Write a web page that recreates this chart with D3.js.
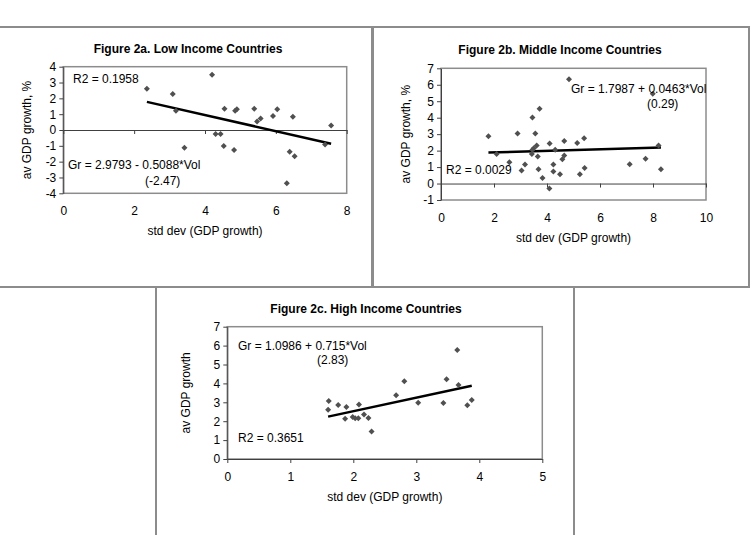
<!DOCTYPE html>
<html>
<head>
<meta charset="utf-8">
<script src="https://cdn.jsdelivr.net/npm/d3@7"></script>
<style>
    body { margin: 0; background: #fff; }
    svg { display: block; font-family: Arial, 'Liberation Sans', sans-serif; }
    .panel-box { fill: #fff; stroke: #8c8c8c; stroke-width: 2; }
    .plot-box { fill: none; stroke: #8c8c8c; stroke-width: 1.5; }
    .axis path, .axis line { stroke: #404040; }
    .title { font-size: 12px; font-weight: bold; }
    .axis-label { font-size: 12px; }
    .note { font-size: 12px; }
    .trend-line { stroke: #000; stroke-width: 2.5; fill: none; }
    .marker { fill: #505050; }
</style>
</head>
<body>
<div id="figure"></div>
<script>
// Figure 2a. Low income countries
const lowVol = [2.36, 3.09, 3.18, 3.42, 4.20, 4.30, 4.44, 4.55, 4.53, 4.82, 4.85, 4.90, 5.39, 5.47, 5.57, 5.92, 6.04, 6.31, 6.39, 6.48, 6.53, 7.39, 7.56];
const lowGr = [2.61, 2.27, 1.22, -1.12, 3.49, -0.25, -0.25, 1.35, -1.01, -1.26, 1.22, 1.31, 1.35, 0.53, 0.72, 0.88, 1.31, -3.37, -1.37, 0.84, -1.66, -0.91, 0.29];
const lowFit = { a: 2.9793, b: -0.5088 };

// Figure 2b. Middle income countries
const midVol = [1.79, 2.10, 2.58, 2.89, 3.04, 3.17, 3.43, 3.45, 3.50, 3.45, 3.72, 3.56, 3.61, 3.65, 3.68, 3.83, 4.09, 4.10, 4.24, 4.24, 4.31, 4.49, 4.58, 4.65, 4.65, 4.83, 5.14, 5.24, 5.40, 5.42, 7.12, 7.72, 7.99, 8.21, 8.30];
const midGr = [2.88, 1.80, 1.30, 3.04, 0.79, 1.15, 1.80, 2.05, 2.15, 4.01, 4.54, 3.04, 2.31, 1.64, 0.87, 0.34, -0.30, 2.43, 1.15, 0.73, 2.05, 0.57, 1.48, 1.70, 2.59, 6.34, 2.47, 0.57, 2.75, 0.95, 1.17, 1.50, 5.45, 2.31, 0.87];
const midFit = { a: 1.7987, b: 0.0463 };

// Figure 2c. High income countries
const highVol = [1.60, 1.61, 1.76, 1.87, 1.89, 1.99, 2.03, 2.08, 2.09, 2.17, 2.24, 2.29, 2.68, 2.81, 3.03, 3.43, 3.48, 3.65, 3.67, 3.81, 3.88];
const highGr = [2.61, 3.07, 2.86, 2.13, 2.75, 2.22, 2.15, 2.15, 2.89, 2.35, 2.17, 1.45, 3.37, 4.11, 2.98, 2.96, 4.22, 5.77, 3.92, 2.84, 3.12];
const highFit = { a: 1.0986, b: 0.715 };

// tick values
const lowXTicks = [0, 2, 4, 6, 8];
const lowYTicks = [-4, -3, -2, -1, 0, 1, 2, 3, 4];
const midXTicks = [0, 2, 4, 6, 8, 10];
const midYTicks = [-1, 0, 1, 2, 3, 4, 5, 6, 7];
const highXTicks = [0, 1, 2, 3, 4, 5];
const highYTicks = [0, 1, 2, 3, 4, 5, 6, 7];

// texts
const titles = ['Figure 2a. Low Income Countries', 'Figure 2b. Middle Income Countries', 'Figure 2c. High Income Countries'];
const xTitle = 'std dev (GDP growth)';
const yTitles = ['av GDP growth, %', 'av GDP growth, %', 'av GDP growth'];
const eqTexts = ['Gr = 2.9793 - 0.5088*Vol', 'Gr = 1.7987 + 0.0463*Vol', 'Gr = 1.0986 + 0.715*Vol'];
const tStats = ['(-2.47)', '(0.29)', '(2.83)'];
const r2Texts = ['R2 = 0.1958', 'R2 = 0.0029', 'R2 = 0.3651'];

const width = 756;
const height = 535;

const svg = d3.select('#figure')
    .append('svg')
    .attr('width', width)
    .attr('height', height);

function styleTicks(g) {
    g.attr('font-size', null).attr('font-family', null);
    g.selectAll('text')
        .style('font-size', '12px')
        .style('font-family', "Arial, 'Liberation Sans', sans-serif")
        .style('fill', '#000');
}

function drawPanel(p) {
    // outer frame
    svg.append('rect')
        .classed('panel-box', true)
        .attr('x', p.box[0])
        .attr('y', p.box[1])
        .attr('width', p.box[2])
        .attr('height', p.box[3]);

    const xScale = d3.scaleLinear().domain(p.xDomain).range([p.left, p.right]);
    const yScale = d3.scaleLinear().domain(p.yDomain).range([p.bottom, p.top]);

    svg.append('rect')
        .classed('plot-box', true)
        .attr('x', p.left)
        .attr('y', p.top)
        .attr('width', p.right - p.left)
        .attr('height', p.bottom - p.top);

    // y axis
    const yAxis = d3.axisLeft(yScale)
        .tickValues(p.yTicks)
        .tickSize(4)
        .tickSizeOuter(0)
        .tickPadding(3)
        .tickFormat(d => String(d));
    svg.append('g')
        .classed('axis', true)
        .attr('transform', 'translate(' + p.left + ',0)')
        .call(yAxis)
        .call(styleTicks);

    // x axis crosses at 0, labels sit under the plot
    const zeroY = yScale(0);
    const xAxis = d3.axisBottom(xScale)
        .tickValues(p.xTicks)
        .tickSize(4)
        .tickSizeOuter(0)
        .tickFormat(d => String(d));
    const xg = svg.append('g')
        .classed('axis', true)
        .attr('transform', 'translate(0,' + zeroY + ')')
        .call(xAxis)
        .call(styleTicks);
    xg.selectAll('text')
        .attr('dy', null)
        .attr('y', p.bottom - zeroY + 22);

    // titles
    svg.append('text')
        .classed('title', true)
        .attr('x', p.titleX)
        .attr('y', p.top - 14)
        .attr('text-anchor', 'middle')
        .text(p.title);

    svg.append('text')
        .classed('axis-label', true)
        .attr('x', (p.left + p.right) / 2)
        .attr('y', p.bottom + 42)
        .attr('text-anchor', 'middle')
        .text(xTitle);

    svg.append('text')
        .classed('axis-label', true)
        .attr('transform', 'translate(' + (p.left - p.yTitleOff) + ',' + (p.top + p.bottom) / 2 + ') rotate(-90)')
        .attr('text-anchor', 'middle')
        .text(p.yTitle);

    // trend line across the range of the data
    const ext = d3.extent(p.xs);
    const fitLine = d3.line()
        .x(d => xScale(d))
        .y(d => yScale(p.fit.a + p.fit.b * d));
    svg.append('path')
        .classed('trend-line', true)
        .datum(ext)
        .attr('d', fitLine);

    // markers
    const points = p.xs.map((x, i) => ({ x: x, y: p.ys[i] }));
    svg.selectAll(null)
        .data(points)
        .enter()
        .append('path')
        .classed('marker', true)
        .attr('d', d3.symbol(d3.symbolSquare, 18))
        .attr('transform', d => 'translate(' + xScale(d.x) + ',' + yScale(d.y) + ') rotate(45)');

    // equation notes
    svg.append('text')
        .classed('note', true)
        .attr('x', p.eq[0])
        .attr('y', p.eq[1])
        .text(p.eqText);
    svg.append('text')
        .classed('note', true)
        .attr('x', p.tstat[0])
        .attr('y', p.tstat[1])
        .text(p.tText);
    svg.append('text')
        .classed('note', true)
        .attr('x', p.r2[0])
        .attr('y', p.r2[1])
        .text(p.r2Text);
}

drawPanel({
    box: [-2, 27, 374, 260],
    left: 63.3, right: 346.7, top: 66.7, bottom: 193.3,
    xDomain: [0, 8], yDomain: [-4, 4],
    xTicks: lowXTicks, yTicks: lowYTicks,
    xs: lowVol, ys: lowGr, fit: lowFit,
    title: titles[0], titleX: 188, yTitle: yTitles[0], yTitleOff: 32,
    eqText: eqTexts[0], eq: [68, 169], tText: tStats[0], tstat: [145, 185],
    r2Text: r2Texts[0], r2: [73, 83]
});

drawPanel({
    box: [373, 27, 376, 260],
    left: 441, right: 706, top: 68.3, bottom: 200,
    xDomain: [0, 10], yDomain: [-1, 7],
    xTicks: midXTicks, yTicks: midYTicks,
    xs: midVol, ys: midGr, fit: midFit,
    title: titles[1], titleX: 560, yTitle: yTitles[1], yTitleOff: 31.5,
    eqText: eqTexts[1], eq: [571, 93], tText: tStats[1], tstat: [647, 108],
    r2Text: r2Texts[1], r2: [446, 174]
});

drawPanel({
    box: [156, 287, 418, 260],
    left: 227.3, right: 542.3, top: 326.7, bottom: 459,
    xDomain: [0, 5], yDomain: [0, 7],
    xTicks: highXTicks, yTicks: highYTicks,
    xs: highVol, ys: highGr, fit: highFit,
    title: titles[2], titleX: 366, yTitle: yTitles[2], yTitleOff: 37,
    eqText: eqTexts[2], eq: [238, 349.5], tText: tStats[2], tstat: [317, 363.5],
    r2Text: r2Texts[2], r2: [238, 442]
});
</script>
</body>
</html>
